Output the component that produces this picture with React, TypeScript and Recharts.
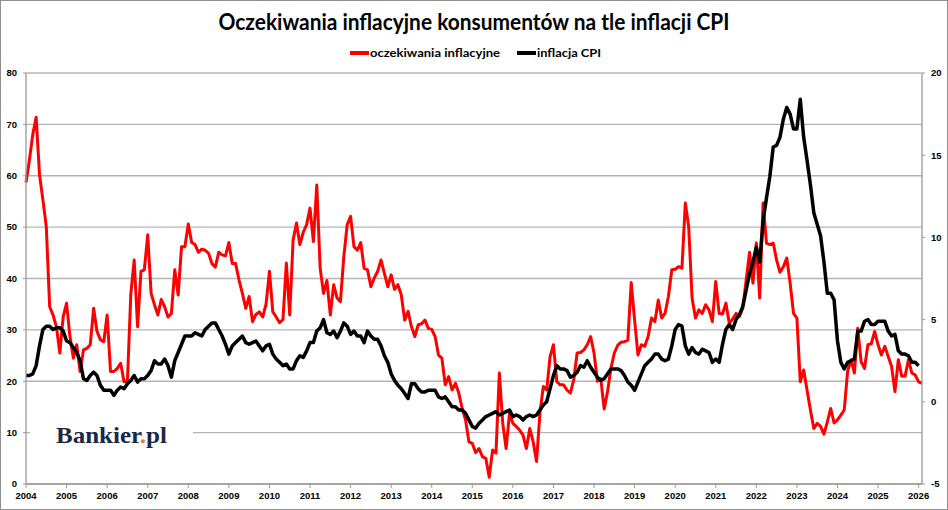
import React from "react";
import { LineChart, Line, XAxis, YAxis, CartesianGrid } from "recharts";

const START_YEAR = 2004;

// consumer inflation expectations (left axis), monthly from Jan 2004 to Feb 2026
const expectations: number[] = [
  58.7, 63.0, 68.0, 71.4, 60.2, 55.3, 50.1, 34.5, 32.9, 30.6, 25.5, 32.6, // 2004
  35.2, 28.7, 24.5, 27.1, 21.9, 26.1, 26.4, 27.1, 34.2, 29.7, 28.1, 27.7, // 2005
  32.9, 21.9, 21.9, 22.5, 23.5, 19.9, 20.0, 37.0, 43.6, 30.6, 41.4, 41.7, // 2006
  48.5, 37.1, 34.9, 32.9, 35.9, 34.5, 32.5, 33.2, 41.7, 36.8, 46.2, 46.2, // 2007
  50.6, 47.0, 46.6, 45.1, 45.7, 45.5, 44.9, 42.9, 42.2, 45.1, 44.6, 44.4, // 2008
  47.0, 42.9, 42.9, 39.7, 37.1, 34.2, 36.5, 31.6, 33.0, 33.5, 32.5, 35.0, // 2009
  41.4, 33.5, 32.5, 31.4, 32.0, 43.0, 32.9, 47.5, 50.8, 46.6, 49.0, 50.5, // 2010
  53.7, 47.2, 58.2, 42.0, 37.1, 39.6, 32.9, 38.8, 36.2, 35.5, 44.3, 50.5, // 2011
  52.1, 46.2, 45.5, 47.0, 42.0, 41.7, 38.4, 40.1, 41.4, 43.6, 41.0, 38.4, // 2012
  40.7, 37.9, 38.8, 36.8, 31.9, 33.6, 30.6, 28.7, 31.0, 31.2, 31.9, 30.3, // 2013
  30.1, 28.7, 25.1, 24.5, 19.3, 20.9, 18.3, 19.6, 17.7, 14.7, 12.5, 8.2, // 2014
  7.9, 6.1, 6.9, 5.3, 5.0, 1.3, 6.6, 6.0, 21.6, 11.8, 6.9, 13.8, // 2015
  11.8, 11.2, 10.5, 9.5, 6.9, 10.8, 8.2, 4.4, 13.8, 19.0, 18.3, 24.8, // 2016
  27.1, 19.9, 19.3, 19.3, 18.3, 17.7, 20.3, 25.5, 25.6, 26.1, 27.1, 28.7, // 2017
  25.5, 20.0, 20.5, 14.6, 18.0, 22.5, 25.5, 27.0, 27.6, 27.7, 28.0, 39.2, // 2018
  31.9, 25.1, 27.1, 26.8, 28.7, 32.3, 31.6, 35.8, 32.3, 33.2, 36.5, 41.7, // 2019
  41.8, 42.3, 42.0, 54.7, 50.1, 36.2, 32.3, 33.9, 33.2, 34.9, 33.9, 31.6, // 2020
  39.4, 33.2, 33.1, 35.2, 31.3, 32.1, 33.2, 32.6, 34.2, 39.7, 45.1, 39.1, // 2021
  46.9, 36.2, 54.7, 46.9, 46.6, 46.9, 43.6, 41.2, 42.3, 44.0, 39.1, 33.2, // 2022
  32.3, 19.9, 22.2, 18.3, 14.4, 10.8, 11.8, 11.2, 9.7, 12.1, 14.7, 11.9, // 2023
  12.5, 13.4, 14.4, 21.9, 24.2, 21.6, 30.3, 23.8, 22.5, 27.1, 27.3, 29.7, // 2024
  27.1, 25.1, 26.8, 24.8, 22.9, 18.0, 24.2, 21.0, 21.0, 24.2, 21.6, 21.2, // 2025
  19.9, 19.6, // 2026
];

// CPI inflation y/y (right axis), monthly from Jan 2004 to Jan 2026
const cpi: number[] = [
  1.6, 1.6, 1.7, 2.2, 3.4, 4.4, 4.6, 4.6, 4.4, 4.5, 4.5, 4.3, // 2004
  3.7, 3.6, 3.3, 3.0, 2.5, 1.4, 1.3, 1.6, 1.8, 1.6, 1.0, 0.7, // 2005
  0.7, 0.7, 0.4, 0.7, 0.9, 0.8, 1.1, 1.3, 1.6, 1.2, 1.4, 1.4, // 2006
  1.6, 1.9, 2.5, 2.3, 2.3, 2.6, 2.2, 1.5, 2.5, 3.0, 3.5, 4.0, // 2007
  4.0, 4.0, 4.2, 4.1, 4.0, 4.4, 4.6, 4.8, 4.8, 4.4, 4.0, 3.5, // 2008
  2.9, 3.4, 3.6, 3.8, 4.0, 3.6, 3.5, 3.6, 3.7, 3.4, 3.1, 3.4, // 2009
  3.5, 2.9, 2.6, 2.4, 2.2, 2.3, 2.0, 2.0, 2.5, 2.8, 2.7, 3.1, // 2010
  3.6, 3.6, 4.3, 4.5, 5.0, 4.2, 4.1, 4.3, 3.9, 4.3, 4.8, 4.6, // 2011
  4.1, 4.3, 4.0, 4.0, 3.6, 4.3, 4.0, 3.8, 3.8, 3.4, 2.8, 2.4, // 2012
  1.7, 1.3, 1.0, 0.8, 0.5, 0.2, 1.1, 1.1, 0.8, 0.6, 0.6, 0.7, // 2013
  0.7, 0.7, 0.3, 0.2, 0.3, 0.0, -0.3, -0.3, -0.5, -0.5, -0.7, -1.1, // 2014
  -1.5, -1.6, -1.3, -1.1, -0.9, -0.8, -0.7, -0.6, -0.8, -0.7, -0.6, -0.5, // 2015
  -0.9, -0.8, -0.9, -1.1, -0.9, -0.8, -0.9, -0.8, -0.5, -0.2, 0.0, 0.8, // 2016
  1.6, 2.2, 2.0, 2.0, 1.9, 1.5, 1.6, 1.8, 2.2, 2.1, 2.5, 2.1, // 2017
  1.8, 1.5, 1.3, 1.4, 1.7, 2.0, 2.0, 2.0, 1.9, 1.6, 1.2, 1.0, // 2018
  0.7, 1.2, 1.7, 2.2, 2.4, 2.6, 2.9, 2.9, 2.6, 2.5, 2.6, 3.4, // 2019
  4.4, 4.7, 4.6, 3.4, 2.9, 3.3, 3.0, 2.9, 3.2, 3.1, 3.0, 2.4, // 2020
  2.6, 2.4, 3.5, 4.4, 4.7, 4.4, 5.0, 5.3, 5.8, 6.8, 7.8, 8.5, // 2021
  9.4, 8.5, 11.0, 12.4, 13.7, 15.5, 15.6, 16.1, 17.2, 17.9, 17.5, 16.6, // 2022
  16.6, 18.4, 16.1, 14.7, 13.2, 11.5, 10.8, 10.1, 8.5, 6.6, 6.6, 6.2, // 2023
  3.7, 2.4, 2.0, 2.4, 2.5, 2.6, 4.3, 4.3, 4.9, 5.0, 4.7, 4.7, // 2024
  4.9, 4.9, 4.9, 4.3, 4.0, 4.1, 3.1, 2.9, 2.9, 2.8, 2.4, 2.4, // 2025
  2.2, // 2026
];

const yearTicks: number[] = [
  2004, 2005, 2006, 2007, 2008, 2009, 2010, 2011, 2012, 2013, 2014, 2015,
  2016, 2017, 2018, 2019, 2020, 2021, 2022, 2023, 2024, 2025, 2026,
];
const leftTicks: number[] = [0, 10, 20, 30, 40, 50, 60, 70, 80];
const rightTicks: number[] = [-5, 0, 5, 10, 15, 20];

const TITLE = "Oczekiwania inflacyjne konsumentów na tle inflacji CPI";
const SERIES_EXP = "oczekiwania inflacyjne";
const SERIES_CPI = "inflacja CPI";

const data = expectations.map((v, i) => ({
  idx: i,
  exp: v,
  cpi: i < cpi.length ? cpi[i] : null,
}));

const lastIdx = expectations.length - 1;
const xTicks = yearTicks.map((y) => (y - START_YEAR) * 12);

const tickStyle = {
  fill: "#000",
  fontSize: 9.5,
  fontWeight: "bold" as const,
  fontFamily: "'Liberation Sans', Arial, sans-serif",
};

const AXIS_GRAY = "#9a9a9a";

export default function App() {
  return (
    <div
      style={{
        position: "absolute",
        left: 0,
        top: 0,
        width: 948,
        height: 510,
        background: "#fff",
        overflow: "hidden",
      }}
    >
      <div style={{ position: "absolute", left: 0, top: 0 }}>
        <LineChart
          width={948}
          height={510}
          data={data}
          margin={{ top: 73, right: 0, bottom: 0, left: 0 }}
        >
          <CartesianGrid
            yAxisId="left"
            vertical={false}
            stroke="#b4b4b4"
            strokeWidth={1.4}
          />
          <XAxis
            dataKey="idx"
            type="number"
            domain={[0, lastIdx]}
            ticks={xTicks}
            tickFormatter={(v: number) => String(START_YEAR + v / 12)}
            interval={0}
            height={26}
            tickSize={4}
            tickMargin={4}
            tick={tickStyle}
            stroke={AXIS_GRAY}
            axisLine={{ stroke: AXIS_GRAY, strokeWidth: 1.3 }}
            tickLine={{ stroke: AXIS_GRAY }}
          />
          <YAxis
            yAxisId="left"
            domain={[0, 80]}
            ticks={leftTicks}
            interval={0}
            width={26}
            tickSize={3}
            tickMargin={6}
            tick={tickStyle}
            axisLine={{ stroke: AXIS_GRAY, strokeWidth: 1.3 }}
            tickLine={{ stroke: AXIS_GRAY }}
          />
          <YAxis
            yAxisId="right"
            orientation="right"
            domain={[-5, 20]}
            ticks={rightTicks}
            interval={0}
            width={26}
            tickSize={3}
            tickMargin={6}
            tick={tickStyle}
            axisLine={{ stroke: AXIS_GRAY, strokeWidth: 1.3 }}
            tickLine={{ stroke: AXIS_GRAY }}
          />
          <Line
            yAxisId="left"
            type="linear"
            dataKey="exp"
            stroke="#ff0000"
            strokeWidth={3}
            dot={false}
            activeDot={false}
            strokeLinejoin="round"
            isAnimationActive={false}
          />
          <Line
            yAxisId="right"
            type="linear"
            dataKey="cpi"
            stroke="#000000"
            strokeWidth={3.5}
            dot={false}
            activeDot={false}
            strokeLinejoin="round"
            connectNulls={false}
            isAnimationActive={false}
          />
        </LineChart>
      </div>
      <svg
        width={948}
        height={510}
        style={{ position: "absolute", left: 0, top: 0, pointerEvents: "none" }}
      >
        <text
          x={474}
          y={30}
          textAnchor="middle"
          fontFamily="Lato, 'Liberation Sans', sans-serif"
          fontWeight="bold"
          fontSize={22}
          textLength={511}
          lengthAdjust="spacingAndGlyphs"
          fill="#000"
        >
          {TITLE}
        </text>
        <line x1={350} y1={53} x2={369} y2={53} stroke="#ff0000" strokeWidth={4} />
        <text
          x={370}
          y={57}
          fontFamily="Lato, 'Liberation Sans', sans-serif"
          fontWeight="bold"
          fontSize={12}
          textLength={130}
          lengthAdjust="spacingAndGlyphs"
          fill="#000"
        >
          {SERIES_EXP}
        </text>
        <line x1={517} y1={53} x2={536} y2={53} stroke="#000" strokeWidth={4} />
        <text
          x={537}
          y={57}
          fontFamily="Lato, 'Liberation Sans', sans-serif"
          fontWeight="bold"
          fontSize={12}
          textLength={64}
          lengthAdjust="spacingAndGlyphs"
          fill="#000"
        >
          {SERIES_CPI}
        </text>
        <rect x={30} y={418} width={163} height={34} fill="#fff" />
        <text
          x={56}
          y={443}
          fontFamily="'Liberation Serif', 'DejaVu Serif', serif"
          fontWeight="bold"
          fontSize={24}
          textLength={111}
          lengthAdjust="spacingAndGlyphs"
          fill="#1b2747"
        >
          Bankier<tspan fill="#f07c22">.</tspan>pl
        </text>
      </svg>
      <div
        style={{
          position: "absolute",
          left: 0,
          top: 0,
          width: 948,
          height: 510,
          boxSizing: "border-box",
          border: "1.5px solid #8e8e8e",
          pointerEvents: "none",
        }}
      />
    </div>
  );
}
